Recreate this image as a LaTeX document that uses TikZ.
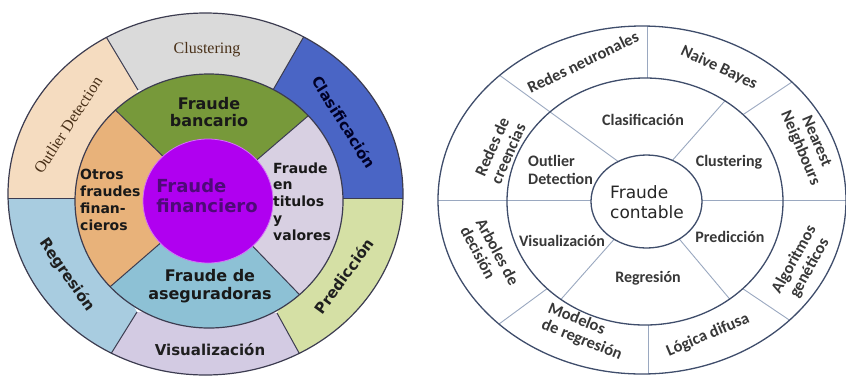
\documentclass[tikz,border=0pt]{standalone}
\usepackage{fontspec}
\newfontfamily\dvs{DejaVu Sans}
\newfontfamily\carl{Carlito}
\newfontfamily\libser{Liberation Serif}
\definecolor{peach}{HTML}{F5DCC0}
\definecolor{lgray}{HTML}{DADADA}
\definecolor{cblue}{HTML}{4A65C5}
\definecolor{ygreen}{HTML}{D5E0A5}
\definecolor{lavo}{HTML}{D3CBE3}
\definecolor{lblue}{HTML}{A8CCE0}
\definecolor{olive}{HTML}{77993A}
\definecolor{orng}{HTML}{E8B27A}
\definecolor{lavi}{HTML}{D8D0E2}
\definecolor{mblue}{HTML}{8DC1D5}
\definecolor{purp}{HTML}{B000F0}
\definecolor{dpurp}{HTML}{4E0A78}
\definecolor{lline}{HTML}{3C3C50}
\definecolor{rline}{HTML}{3F4D6B}
\definecolor{rdiv}{HTML}{9AA8C0}
\definecolor{rtext}{HTML}{383838}
\tikzset{
  lborder/.style={draw=lline, line width=1.2pt},
  ldiv/.style={draw=lline, line width=1pt},
  rborder/.style={draw=rline, line width=1.3pt},
  rdivider/.style={draw=rdiv, line width=0.9pt},
  serlab/.style={font=\libser\fontsize{16}{18}\selectfont, text=black!62!brown, inner sep=0pt},
  outlab/.style={font=\dvs\bfseries\fontsize{15}{17}\selectfont, text=black!88, inner sep=0pt},
  midlab/.style={font=\dvs\bfseries\fontsize{16}{17.5}\selectfont, text=black!90, inner sep=0pt, align=center},
  sidelab/.style={font=\dvs\bfseries\fontsize{14}{16.8}\selectfont, text=black!90, inner sep=0pt, align=left, anchor=west},
  rmid/.style={font=\carl\bfseries\fontsize{16}{18}\selectfont, text=rtext, inner sep=0pt},
  rout/.style={font=\carl\bfseries\fontsize{16.5}{17.5}\selectfont, text=rtext, inner sep=0pt},
}
\begin{document}
\begin{tikzpicture}[x=1pt,y=-1pt]
\useasboundingbox (0,0) rectangle (846,376);
% ================= LEFT DIAGRAM =================
\begin{scope}
  \clip (205.5,194) ellipse [x radius=197.5pt, y radius=181pt];
  \fill[peach]  (75,198.5) -- (-10,198.5) -- (-10,5) -- (87,5) -- (138,90) -- cycle;
  \fill[lgray]  (138,90) -- (87,5) -- (322,5) -- (273,90) -- cycle;
  \fill[cblue]  (273,90) -- (322,5) -- (420,5) -- (420,198.5) -- (343,198.5) -- cycle;
  \fill[ygreen] (343,198.5) -- (420,198.5) -- (420,385) -- (314,380) -- (277,313) -- cycle;
  \fill[lavo]   (277,313) -- (314,380) -- (94,381) -- (137,312) -- cycle;
  \fill[lblue]  (137,312) -- (94,381) -- (-10,385) -- (-10,198.5) -- (75,198.5) -- cycle;
  \draw[ldiv] (138,90) -- (87,5);
  \draw[ldiv] (273,90) -- (322,5);
  \draw[ldiv] (343,198.5) -- (420,198.5);
  \draw[ldiv] (277,313) -- (314,380);
  \draw[ldiv] (137,312) -- (94,381);
  \draw[ldiv] (75,198.5) -- (-10,198.5);
\end{scope}
\begin{scope}
  \clip (209,201) ellipse [x radius=134pt, y radius=127pt];
  \fill[olive] (209,201) -- (30,27) -- (400,37) -- cycle;
  \fill[lavi]  (209,201) -- (400,37) -- (382,380) -- cycle;
  \fill[mblue] (209,201) -- (382,380) -- (21,364) -- cycle;
  \fill[orng]  (209,201) -- (21,364) -- (30,27) -- cycle;
  \draw[ldiv] (209,201) -- (30,27);
  \draw[ldiv] (209,201) -- (400,37);
  \draw[ldiv] (209,201) -- (382,380);
  \draw[ldiv] (209,201) -- (21,364);
\end{scope}
\fill[purp] (208,201) ellipse [x radius=65pt, y radius=62pt];
\draw[draw=purp!55!white, line width=0.8pt] (208,201) ellipse [x radius=65pt, y radius=62pt];
\draw[lborder] (209,201) ellipse [x radius=134pt, y radius=127pt];
\draw[lborder] (205.5,194) ellipse [x radius=197.5pt, y radius=181pt];
% left labels
\node[serlab] (lclu) at (207,50) {Clustering};
\node[serlab, rotate=57] (lout) at (68,125) {Outlier Detection};
\node[outlab, text=black!85!blue, rotate=-58] (lcla) at (344,122) {Clasificación};
\node[outlab, rotate=54] (lpre) at (344,276) {Predicción};
\node[outlab, rotate=-55] (lreg) at (67,275) {Regresión};
\node[outlab] (lvis) at (210,350) {Visualización};
\node[midlab] (lban) at (209,112) {Fraude\\bancario};
\node[midlab] (lase) at (210,286) {Fraude de\\aseguradoras};
\node[sidelab] (lotr) at (80,200) {Otros\\fraudes\\finan-\\cieros};
\node[sidelab] (ltit) at (273,201.5) {Fraude\\en\\titulos\\y\\valores};
\node[font=\dvs\bfseries\fontsize{18}{20}\selectfont, text=dpurp, inner sep=0pt, align=left] (lfin) at (207,196) {Fraude\\financiero};
% ================= RIGHT DIAGRAM =================
\begin{scope}
  \clip (642,200) ellipse [x radius=204pt, y radius=174pt];
  \draw[rdivider] (469,53) -- (645,181);
  \draw[rdivider] (420,200) -- (860,200);
  \draw[rdivider] (647,0) -- (647,120);
  \draw[rdivider] (648,280) -- (648,400);
  \draw[rdivider] (819,64) -- (723,128);
  \draw[rdivider] (480,338) -- (567,274);
  \draw[rdivider] (816,338) -- (721,274);
\end{scope}
\fill[white] (645,201.5) ellipse [x radius=138pt, y radius=123.5pt];
\begin{scope}
  \clip (645,201.5) ellipse [x radius=138pt, y radius=123.5pt];
  \draw[rdivider] (469,53) -- (645,181);
  \draw[rdivider] (420,200) -- (860,200);
  \draw[rdivider] (746,77) -- (663,171);
  \draw[rdivider] (540,323) -- (625,227);
  \draw[rdivider] (749,322) -- (665,222);
\end{scope}
\fill[white] (646.5,201.5) ellipse [x radius=55.5pt, y radius=46.5pt];
\draw[rborder] (642,200) ellipse [x radius=204pt, y radius=174pt];
\draw[rborder] (645,201.5) ellipse [x radius=138pt, y radius=123.5pt];
\draw[rborder] (646.5,201.5) ellipse [x radius=55.5pt, y radius=46.5pt];
% right labels
\node[font=\dvs\fontsize{17}{20}\selectfont, text=black!85, inner sep=0pt, align=left] (rfra) at (647,202) {Fraude\\contable};
\node[rmid] (rcla) at (643,120) {Clasificación};
\node[rmid, align=left, anchor=west] (rout) at (528,170) {Outlier\\Detection};
\node[rmid] (rclu) at (729,162) {Clustering};
\node[rmid] (rvis) at (562,241) {Visualización};
\node[rmid] (rpre) at (730,237) {Predicción};
\node[rmid] (rreg) at (648,278) {Regresión};
\node[rout, rotate=26] (rred) at (583,62) {Redes neuronales};
\node[rout, rotate=-25] (rnai) at (719,68) {Naive Bayes};
\node[rout, rotate=-67, align=center] (rnea) at (808,145) {Nearest\\Neighbours};
\node[rout, rotate=66, align=center] (rcre) at (500,150) {Redes de\\creencias};
\node[rout, rotate=-62, align=left] (rarb) at (490,256) {Arboles de\\decisión};
\node[rout, rotate=-22, align=left] (rmod) at (585,332) {Modelos\\de regresión};
\node[rout, rotate=23] (rlog) at (708,335) {Lógica difusa};
\node[rout, rotate=61, align=center] (ralg) at (802,264) {Algoritmos\\genéticos};
\end{tikzpicture}
\end{document}
